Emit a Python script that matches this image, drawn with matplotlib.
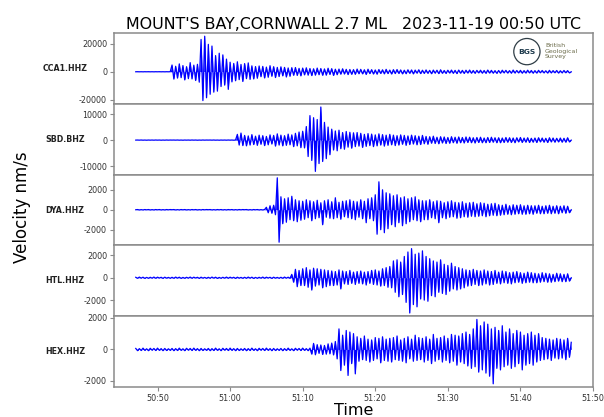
import numpy as np
import matplotlib.pyplot as plt
from matplotlib.ticker import FuncFormatter

plt.rcParams['axes.unicode_minus'] = False

title = "MOUNT'S BAY,CORNWALL 2.7 ML   2023-11-19 00:50 UTC"
stations = ['CCA1.HHZ', 'SBD.BHZ', 'DYA.HHZ', 'HTL.HHZ', 'HEX.HHZ']

# traces, one peak sample every 0.25 s from 50:47 (nm/s)
start = 47   # seconds after 00:50:00
dt = 0.25

cca1 = [0, 40, -30, 20, -40, 30, -20, 40, -30, 20, -40, 30, -20, 40, -30, 20, -40, 30, -20, 40,
        4800, -5200, 3900, -4500, 5600, -4200, 4400, -5800, 3600, -4900, 6500, -5100, 4700, -6200, 5300, -7400, 23000, -20500, 25300, -18500,
        19500, -16000, 18300, -14500, 11500, -13800, 13200, -10500, 12000, -9500, 9000, -12500, 6800, -7200, 5900, -6400, 7100, -5600, 5200, -6900,
        5800, -4900, 6300, -5400, 4200, -5100, 3700, -4600, 4100, -3500, 3800, -4400, 3300, -3900, 4300, -3200, 3600, -4100, 3100, -3400,
        3500, -2900, 3100, -3700, 2700, -3200, 2900, -2500, 3000, -2600, 2400, -2900, 2600, -2200, 2800, -2400, 2300, -2700, 2100, -2400,
        2600, -2100, 2300, -2500, 2000, -2400, 2500, -1900, 2200, -2600, 1800, -2100, 1900, -1700, 2100, -1600, 1700, -2000, 1600, -1800,
        1500, -1800, 1900, -1400, 1700, -1500, 1400, -1900, 1800, -1300, 1500, -1600, 1300, -1700, 1600, -1200, 1400, -1500, 1700, -1300,
        1200, -1600, 1500, -1300, 1600, -1200, 1300, -1500, 1100, -1400, 1400, -1100, 1300, -1500, 1200, -1000, 1400, -1300, 1100, -1200,
        1300, -1100, 1000, -1400, 1200, -1000, 1100, -1300, 1400, -1100, 900, -1200, 1100, -900, 1200, -1100, 1000, -1300, 1200, -1000,
        1000, -1200, 1100, -900, 1200, -1000, 900, -1100, 1000, -800, 1100, -1000, 900, -1100, 1200, -900, 1000, -1000, 800, -1100,
        900, -1000, 1100, -800, 1000, -900, 800, -1000, 1200, -900, 900, -800, 1000, -1000, 800, -900, 1100, -800, 900, -1000,
        800, -900, 1000, -700, 900, -800, 700, -900, 1000, -800, 800, -700, 900, -900, 700, -800, 900, -700, 800, -800,
        0]

sbd = [0, 30, -20, 40, -30, 20, -40, 30, -20, 30, -30, 40, -20, 30, -40, 20, -30, 40, -20, 30,
       0, 30, -20, 40, -30, 20, -40, 30, -20, 30, -30, 40, -20, 30, -40, 20, -30, 40, -20, 30,
       0, 30, -20, 40, -30, 20, -40, 30, -20, 30, -30, 40, -20, 30, -40, 20, 2200, -1900, 2700, -2100,
       1800, -2200, 1600, -1900, 2100, -1700, 1500, -2000, 1900, -1600, 1700, -2100, 1400, -1800, 2000, -1500, 1800, -2300, 2400, -1900,
       1900, -2200, 1700, -2000, 2300, -1800, 2000, -2500, 2600, -2200, 3100, -2900, 3400, -3000, 5200, -6300, 9400, -7800, 8600, -12000,
       7900, -9000, 12700, -8200, 6800, -7100, 5000, -5600, 4200, -3800, 3500, -4100, 3800, -3300, 2900, -3500, 3300, -2700, 3000, -3100,
       2800, -2500, 2900, -2300, 2600, -2800, 2200, -2400, 2500, -2100, 2300, -2500, 2000, -2200, 2400, -1900, 2100, -2300, 1900, -2000,
       2200, -1800, 1900, -2100, 1700, -1900, 2000, -1600, 1800, -2000, 1600, -1700, 1900, -1500, 1700, -1800, 1500, -1700, 1800, -1400,
       1400, -1600, 1300, -1200, 1500, -1300, 1100, -1400, 1300, -1100, 1200, -1300, 1000, -1200, 1300, -1000, 1100, -1200, 1200, -1000,
       1000, -1100, 1200, -900, 1100, -1000, 900, -1100, 1000, -900, 1100, -1000, 800, -1000, 1000, -900, 1100, -800, 900, -1000,
       900, -1000, 800, -900, 1000, -800, 900, -900, 800, -1000, 900, -700, 1000, -900, 800, -800, 900, -900, 700, -800,
       800, -900, 900, -700, 800, -800, 700, -900, 900, -700, 800, -800, 700, -700, 800, -800, 700, -800, 900, -700,
       0]

dya = [0, 20, -20, 10, -20, 20, -10, 20, -20, 10, -20, 20, -10, 20, -20, 10, -20, 20, -10, 20,
       0, 20, -20, 10, -20, 20, -10, 20, -20, 10, -20, 20, -10, 20, -20, 10, -20, 20, -10, 20,
       0, 20, -20, 10, -20, 20, -10, 20, -20, 10, -20, 20, -10, 20, -20, 10, -20, 20, -10, 20,
       0, 20, -20, 10, -20, 20, -10, 20, -20, 10, -20, 20, 250, -300, 400, -350, 450, -500, 3200, -3250,
       1300, -1400, 1100, -1250, 1200, -1000, 1350, -1100, 1000, -1200, 900, -1050, 850, -950, 1000, -800, 900, -1100, 800, -900,
       950, -800, 700, -1500, 900, -750, 1000, -850, 800, -900, 1200, -800, 750, -950, 850, -700, 900, -800, 1000, -900,
       850, -1000, 800, -750, 1000, -900, 850, -1300, 1100, -900, 1200, -1100, 1500, -2450, 2800, -2000, 2000, -2300, 1700, -1900,
       1600, -1500, 1400, -1700, 1500, -1300, 1200, -1600, 1300, -1400, 1100, -1200, 1200, -1000, 1300, -1100, 1000, -1200, 900, -1000,
       900, -1000, 1000, -800, 800, -900, 900, -1300, 850, -800, 700, -900, 800, -750, 900, -700, 750, -850, 700, -800,
       800, -700, 650, -750, 700, -650, 750, -700, 600, -650, 700, -600, 650, -700, 550, -600, 600, -550, 650, -600,
       500, -550, 450, -500, 550, -450, 400, -500, 500, -450, 450, -400, 500, -450, 400, -450, 450, -400, 400, -450,
       400, -350, 450, -400, 350, -400, 400, -350, 450, -400, 350, -350, 400, -400, 350, -300, 400, -350, 350, -300,
       0]

htl = [40, -50, 60, -40, 50, -60, 30, -50, 40, -40, 60, -50, 50, -30, 40, -60, 50, -40, 30, -50,
       40, -50, 60, -40, 50, -60, 30, -50, 40, -40, 60, -50, 50, -30, 40, -60, 50, -40, 30, -50,
       40, -50, 60, -40, 50, -60, 30, -50, 40, -40, 60, -50, 50, -30, 40, -60, 50, -40, 30, -50,
       40, -50, 60, -40, 50, -60, 30, -50, 40, -40, 60, -50, 50, -30, 40, -60, 50, -40, 30, -50,
       40, -50, 60, -40, 50, -60, 300, -400, 750, -800, 650, -700, 800, -700, 900, -850, 700, -1100, 850, -750,
       800, -650, 750, -900, 700, -800, 650, -700, 600, -700, 550, -650, 700, -1000, 600, -550, 550, -600, 650, -500,
       500, -600, 550, -500, 600, -550, 500, -650, 550, -500, 650, -600, 700, -650, 600, -750, 800, -700, 900, -850,
       1000, -900, 1500, -1300, 1600, -1700, 1400, -1500, 1900, -2200, 2300, -3150, 2600, -2400, 2100, -2600, 2200, -1900, 2400, -2000,
       1900, -2100, 1700, -1600, 1500, -1700, 1400, -1300, 1600, -1400, 1200, -1500, 1100, -1200, 1300, -1000, 1000, -1100, 900, -1000,
       800, -900, 700, -750, 650, -700, 750, -600, 650, -700, 600, -650, 700, -550, 600, -650, 550, -600, 650, -500,
       500, -550, 600, -450, 550, -500, 450, -550, 500, -450, 550, -400, 450, -500, 400, -450, 500, -400, 450, -450,
       400, -450, 350, -400, 450, -350, 400, -400, 350, -400, 300, -350, 400, -300, 350, -350, 300, -350, 350, -300,
       0]

hex_ = [60, -80, 50, -70, 80, -60, 40, -80, 70, -50, 60, -70, 80, -60, 50, -80, 60, -70, 40, -60,
        60, -80, 50, -70, 80, -60, 40, -80, 70, -50, 60, -70, 80, -60, 50, -80, 60, -70, 40, -60,
        60, -80, 50, -70, 80, -60, 40, -80, 70, -50, 60, -70, 80, -60, 50, -80, 60, -70, 40, -60,
        60, -80, 50, -70, 80, -60, 40, -80, 70, -50, 60, -70, 80, -60, 50, -80, 60, -70, 40, -60,
        60, -80, 50, -70, 80, -60, 40, -80, 70, -50, 60, -70, 80, -60, 50, -80, 80, -300, 380, -340,
        300, -250, 280, -320, 250, -300, 350, -280, 400, -350, 500, -600, 1300, -1340, 900, -1000, 1200, -1650, 1100, -900,
        1000, -1550, 800, -750, 700, -650, 850, -700, 650, -800, 600, -700, 750, -600, 700, -850, 800, -700, 650, -750,
        700, -800, 750, -650, 850, -700, 600, -750, 700, -850, 800, -600, 650, -750, 900, -700, 750, -650, 700, -800,
        800, -700, 650, -900, 950, -750, 700, -650, 750, -800, 850, -700, 700, -850, 950, -750, 900, -1000, 850, -800,
        1000, -900, 1100, -1050, 950, -1200, 1300, -1100, 1900, -1440, 1500, -1300, 1740, -1500, 1600, -1700, 1300, -2180, 1400, -1200,
        1200, -1300, 1500, -1100, 1100, -1000, 1300, -1200, 1000, -1100, 1200, -900, 1100, -1300, 900, -1000, 1000, -900, 1100, -1000,
        900, -800, 1000, -700, 750, -650, 700, -600, 650, -700, 600, -550, 700, -600, 650, -550, 600, -650, 700, -500,
        450]

traces = [cca1, sbd, dya, htl, hex_]
yticks = [[-20000, 0, 20000], [-10000, 0, 10000], [-2000, 0, 2000], [-2000, 0, 2000], [-2000, 0, 2000]]
xticks = [50, 60, 70, 80, 90, 100, 110]

frame = '#8a8a8a'

fig, axes = plt.subplots(5, 1, sharex=True, figsize=(6.04, 4.17), dpi=100)
fig.subplots_adjust(left=0.1887, right=0.9818, top=0.9209, bottom=0.0719, hspace=0)

for ax, name, trace, ticks in zip(axes, stations, traces, yticks):
    t = start + dt * np.arange(len(trace))
    ax.fill_between(t, trace, 0, color='blue', lw=0)
    ax.plot(t, trace, color='blue', lw=0.9)
    ax.set_yticks(ticks)
    ax.text(-0.102, 0.5, name, transform=ax.transAxes, ha='center', va='center',
            fontsize=5.7, fontweight='bold', color='#222222')
    for s in ax.spines.values():
        s.set_color(frame)
        s.set_linewidth(1.1)
    ax.tick_params(axis='both', labelsize=5.8, colors=frame, labelcolor='#333333', length=3, pad=2)
    if ax is not axes[-1]:
        ax.tick_params(axis='x', bottom=False)

axes[-1].set_xticks(xticks)
axes[-1].xaxis.set_major_formatter(FuncFormatter(lambda s, pos: f"{50 + int(s) // 60}:{int(s) % 60:02d}"))
axes[-1].set_xlabel('Time', fontsize=11.5, labelpad=0)

axes[0].set_title(title, fontsize=11.4, pad=3)
fig.text(0.036, 0.504, 'Velocity nm/s', rotation=90, fontsize=12, ha='center', va='center')

# BGS logo, top right of the first panel
axes[0].text(0.862, 0.737, 'BGS', transform=axes[0].transAxes, ha='center', va='center',
             fontsize=5.4, fontweight='bold', color='#1f3b4d',
             bbox=dict(boxstyle='circle,pad=0.6', fc='white', ec='#2f3d46', lw=0.9))
axes[0].text(0.9, 0.745, 'British\nGeological\nSurvey', transform=axes[0].transAxes,
             ha='left', va='center', fontsize=4.5, color='#6b6b4a', linespacing=1.15)

plt.savefig('out.png', dpi=100)
